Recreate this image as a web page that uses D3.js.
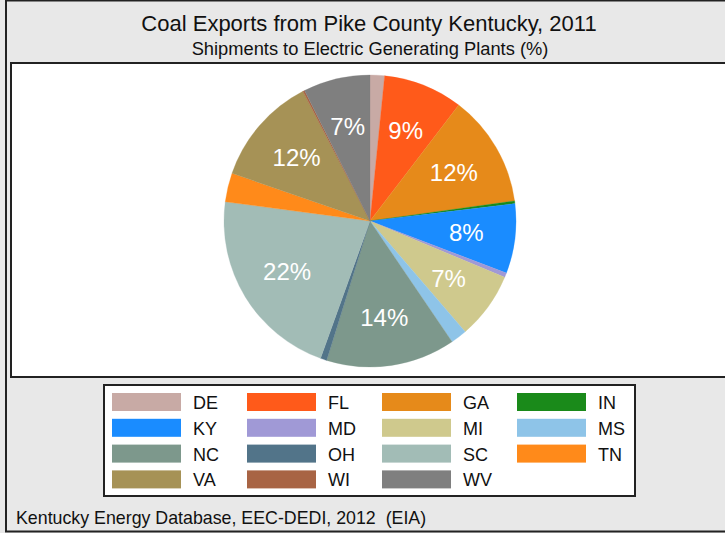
<!DOCTYPE html>
<html>
<head>
<meta charset="utf-8">
<script src="https://cdn.jsdelivr.net/npm/d3@7"></script>
<style>
  html, body { margin: 0; padding: 0; background: #e8e8e8; }
  svg { display: block; font-family: "Liberation Sans", Arial, sans-serif; }
  text { white-space: pre; }
</style>
</head>
<body>
<svg id="chart" width="725" height="533"></svg>
<script>
// ---- Data ----
const title = "Coal Exports from Pike County Kentucky, 2011";
const subtitle = "Shipments to Electric Generating Plants (%)";
const footnote = "Kentucky Energy Database, EEC-DEDI, 2012  (EIA)";
const states = ["DE","FL","GA","IN","KY","MD","MI","MS","NC","OH","SC","TN","VA","WI","WV"];
const shares = [1.6, 8.8, 12.4, 0.3, 7.7, 0.5, 7.4, 1.8, 14.3, 0.7, 21.6, 3.2, 12.1, 0.2, 7.4];
const colors = ["#c8aaa5","#ff5a1a","#e68a1a","#1a8a1a","#1a8cff","#a099d6","#cfc98d","#8ec4e8",
                "#7d988c","#527489","#a2bcb6","#ff8a1a","#a69256","#a86444","#7f7f7f"];

const svg = d3.select("#chart");

// outer frame
svg.append("rect").attr("x", 6).attr("y", 0.5).attr("width", 760).attr("height", 531)
  .attr("fill", "#e8e8e8").attr("stroke", "#222").attr("stroke-width", 2);

// titles
svg.append("text").attr("x", 369).attr("y", 31).attr("text-anchor", "middle")
  .attr("font-size", 22).attr("fill", "#111").text(title);
svg.append("text").attr("x", 370).attr("y", 55).attr("text-anchor", "middle")
  .attr("font-size", 18.3).attr("fill", "#111").text(subtitle);

// plot area
svg.append("rect").attr("x", 11).attr("y", 63).attr("width", 760).attr("height", 314)
  .attr("fill", "#fff").attr("stroke", "#222").attr("stroke-width", 2);

// pie
const cx = 370, cy = 221, R = 146;
const data = states.map((s, i) => ({ state: s, value: shares[i], color: colors[i] }));
const pie = d3.pie().value(d => d.value).sort(null).startAngle(0).endAngle(2 * Math.PI);
const arc = d3.arc().innerRadius(0).outerRadius(R);
const labelArc = d3.arc().innerRadius(97).outerRadius(97);
const arcs = pie(data);
const g = svg.append("g").attr("transform", `translate(${cx},${cy})`);
g.selectAll("path").data(arcs).join("path")
  .attr("d", arc).attr("fill", d => d.data.color)
  .attr("stroke", d => d.data.color).attr("stroke-width", 0.3);
g.selectAll("text").data(arcs.filter(d => d.data.value >= 5)).join("text")
  .attr("transform", d => `translate(${labelArc.centroid(d)})`)
  .attr("text-anchor", "middle").attr("dy", "0.36em")
  .attr("font-size", 24).attr("fill", "#fff")
  .text(d => Math.round(d.data.value) + "%");

// legend
svg.append("rect").attr("x", 104).attr("y", 385).attr("width", 531).attr("height", 111)
  .attr("fill", "#fff").attr("stroke", "#222").attr("stroke-width", 2);
const legend = svg.append("g");
const items = legend.selectAll("g").data(data).join("g")
  .attr("transform", (d, i) => `translate(${112 + (i % 4) * 135},${393 + Math.floor(i / 4) * 25.8})`);
items.append("rect").attr("width", 69).attr("height", 18).attr("fill", d => d.color);
items.append("text").attr("x", 81).attr("y", 16).attr("font-size", 18).attr("fill", "#111")
  .text(d => d.state);

// footnote
svg.append("text").attr("x", 16).attr("y", 524).attr("font-size", 17.8).attr("fill", "#111")
  .text(footnote);
</script>
</body>
</html>
